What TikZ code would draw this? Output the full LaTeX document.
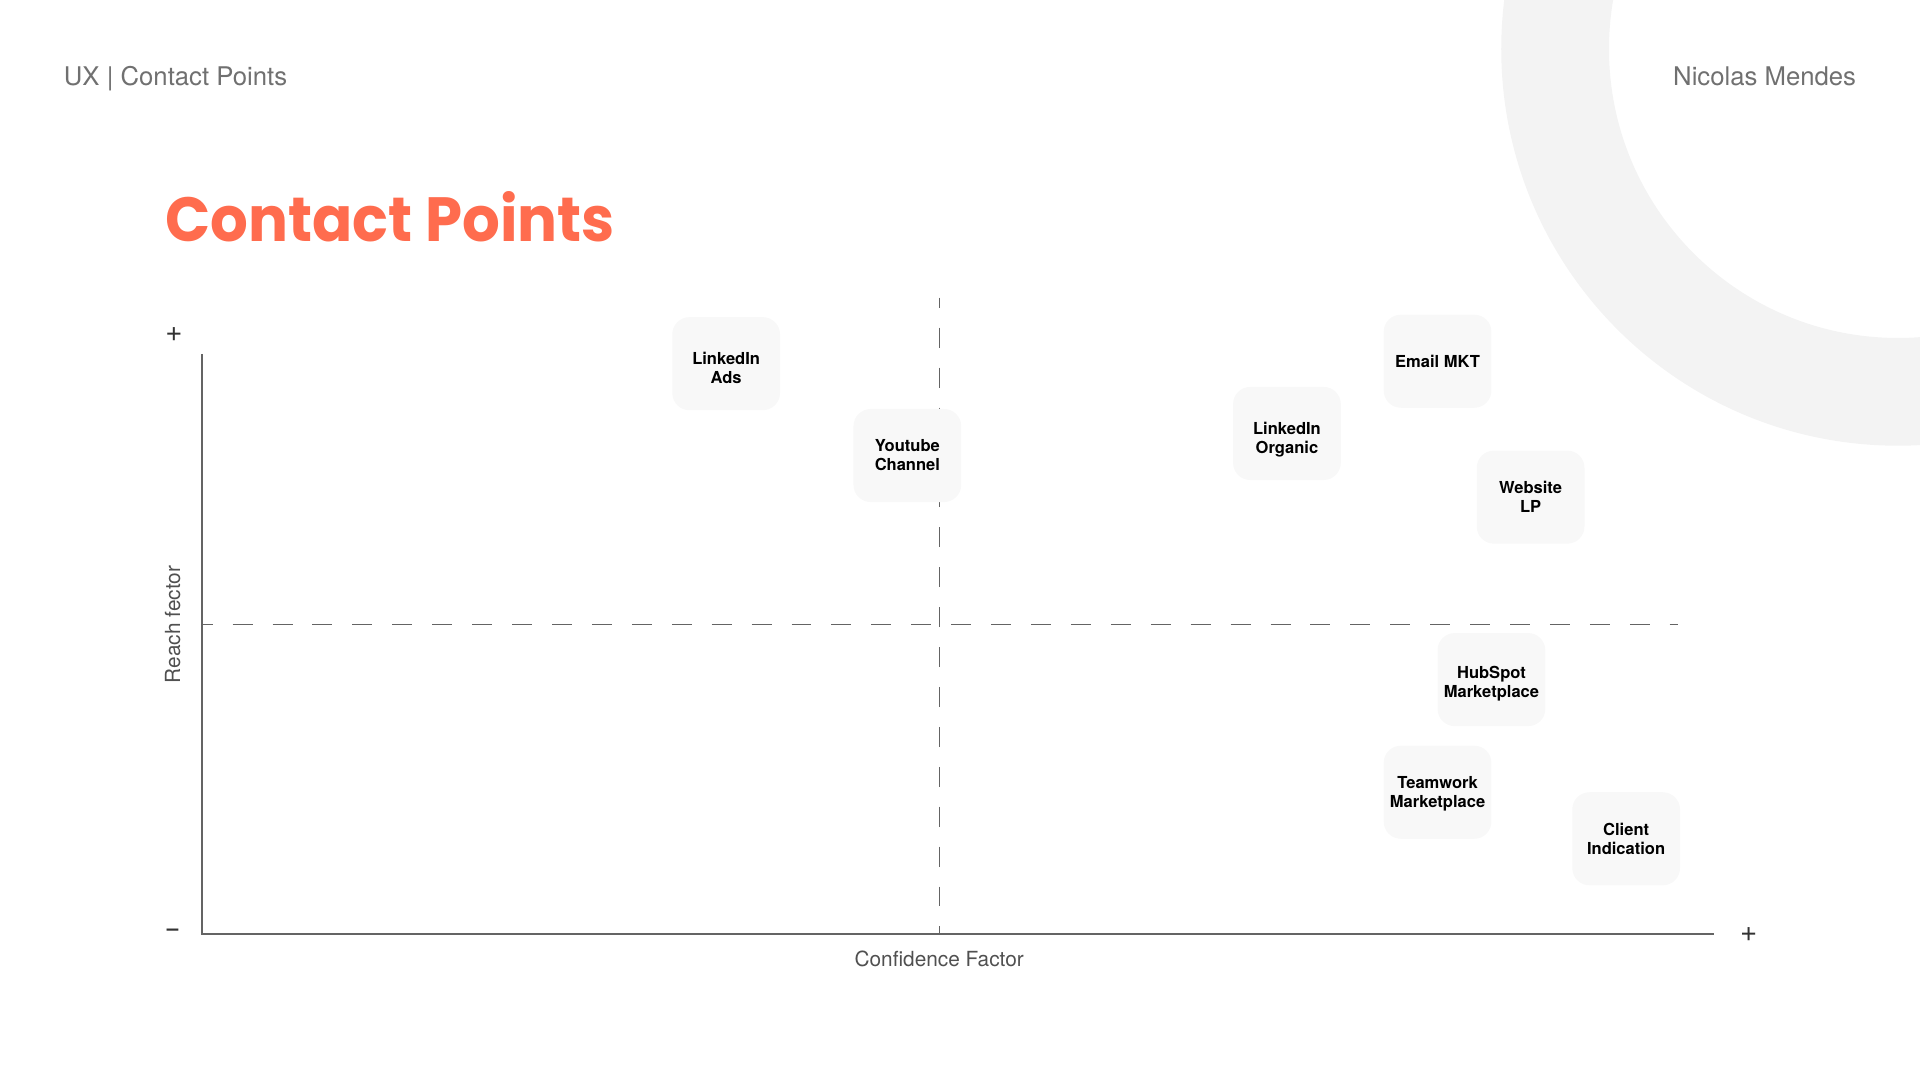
\documentclass[tikz,border=0pt]{standalone}
\usepackage{fontspec}
\setmainfont{TeX Gyre Heros}
\newfontfamily\titlefont{Poppins}
\usepackage{xcolor}
\definecolor{coral}{RGB}{255,108,78}
\definecolor{ringgray}{RGB}{243,243,243}
\definecolor{cardgray}{RGB}{248,248,248}
\definecolor{axisgray}{RGB}{100,100,100}
\definecolor{labelgray}{RGB}{80,80,80}
\definecolor{headgray}{RGB}{112,112,112}
\definecolor{signgray}{RGB}{51,51,51}

\begin{document}
\begin{tikzpicture}[x=1pt,y=-1pt,
    card/.style={fill=cardgray,rounded corners=14pt,minimum width=88pt,minimum height=76pt,inner sep=0pt,align=center,text height=25pt,text depth=0pt,font=\fontsize{13.5}{15.5}\selectfont\bfseries},
    guide/.style={axisgray,line width=1pt,dash pattern=on 16.3pt off 16.3pt},
    sign/.style={signgray,inner sep=0pt},
    head/.style={headgray,inner sep=0pt,font=\fontsize{21}{24}\selectfont}]
    \useasboundingbox (0,0) rectangle (1568,882);
    \begin{scope}
    \clip (0,0) rectangle (1568,882);
    \fill[ringgray,even odd rule] (1550,40) circle (324pt) (1550,40) circle (236pt);
    \end{scope}
    \node[head,anchor=base west] (header) at (52,70) {UX | Contact Points};
    \node[head,anchor=base east] (author) at (1516,70) {Nicolas Mendes};
    \node[anchor=base west,inner sep=0pt,coral,font=\fontsize{51}{56}\selectfont\titlefont\bfseries] (title) at (135,197) {\scalebox{0.95}[1]{Contact Points}};
    \coordinate (origin) at (165,763);
    \coordinate (ytop) at (165,289);
    \coordinate (xend) at (1400,763);
    \coordinate (vtop) at (767,243);
    \coordinate (vbot) at (767,763);
    \coordinate (hleft) at (165,510);
    \coordinate (hright) at (1370,510);
    \draw[guide,dash phase=8pt] (vtop) -- (vbot);
    \draw[guide,dash phase=7.6pt] (hleft) -- (hright);
    \draw[axisgray,line width=1.4pt] (ytop) -- (origin) -- (xend);
    \node[sign,font=\fontsize{24}{24}\selectfont] (yplus) at (142,273.5) {+};
    \node[sign,font=\fontsize{17}{17}\selectfont\bfseries] (yminus) at (141,761.5) {–};
    \node[sign,font=\fontsize{24}{24}\selectfont] (xplus) at (1428,763) {+};
    \node[labelgray,rotate=90,font=\fontsize{17}{20}\selectfont] (ylabel) at (141,510) {Reach fector};
    \node[anchor=base,labelgray,font=\fontsize{17}{20}\selectfont] (xlabel) at (767,789) {Confidence Factor};
    \node[card,text height=33pt] (lnads) at (593,297) {LinkedIn\\Ads};
    \node[card] (youtube) at (741,372) {Youtube\\Channel};
    \node[card,text height=33pt] (lnorganic) at (1051,354) {LinkedIn\\Organic};
    \node[card,text height=10pt] (email) at (1174,295) {Email MKT};
    \node[card] (website) at (1250,406) {Website\\LP};
    \node[card,text height=30pt] (hubspot) at (1218,555) {HubSpot\\Marketplace};
    \node[card] (teamwork) at (1174,647) {Teamwork\\Marketplace};
    \node[card] (client) at (1328,685) {Client\\Indication};
\end{tikzpicture}
\end{document}
